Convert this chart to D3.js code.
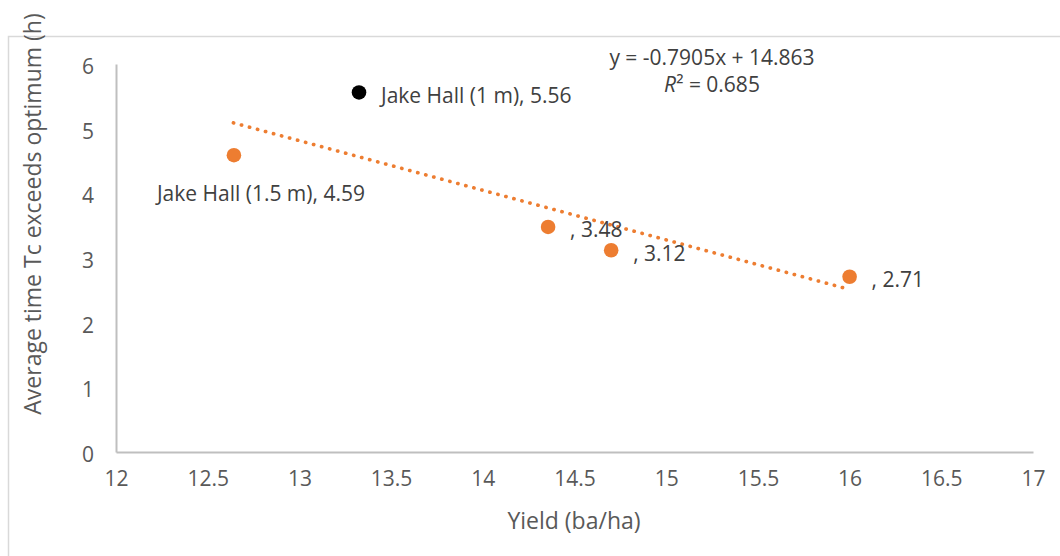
<!DOCTYPE html>
<html><head><meta charset="utf-8">
<script src="https://cdn.jsdelivr.net/npm/d3@7"></script>
<style>body{margin:0;background:#fff}svg{display:block}</style>
</head><body>
<svg id="c" width="1060" height="556"></svg>
<script>
const pointNames = ["Jake Hall (1.5 m)", "", "", "", "Jake Hall (1 m)"];
const pointX = [12.643, 14.356, 14.70, 16.0, 13.325];
const pointY = [4.59, 3.48, 3.12, 2.71, 5.56];
const pointColors = ["#ED7D31", "#ED7D31", "#ED7D31", "#ED7D31", "#000000"];
const xTicks = [12, 12.5, 13, 13.5, 14, 14.5, 15, 15.5, 16, 16.5, 17];
const yTicks = [0, 1, 2, 3, 4, 5, 6];
const trendX = [12.64, 15.965];
const trendY = [5.09, 2.54];
const equationLines = ["y = -0.7905x + 14.863", "R² = 0.685"];

const svg = d3.select("#c");
const font = "'Open Sans', sans-serif";
const fs = 21;
const x = d3.scaleLinear().domain([12, 17]).range([116, 1033]);
const y = d3.scaleLinear().domain([0, 6]).range([452, 64]);

// outer chart border
svg.append("rect").attr("x", 8.5).attr("y", 36.5).attr("width", 1100).attr("height", 600)
  .attr("fill", "none").attr("stroke", "#D9D9D9").attr("stroke-width", 1.5);

// axes
const xa = svg.append("g").attr("transform", "translate(0,452)")
  .call(d3.axisBottom(x).tickValues(xTicks).tickSize(0).tickPadding(23).tickFormat(d => d));
const ya = svg.append("g").attr("transform", "translate(116,0)")
  .call(d3.axisLeft(y).tickValues(yTicks).tickSize(0).tickPadding(22).tickFormat(d => d));
[xa, ya].forEach(a => {
  a.select(".domain").attr("stroke", "#BFBFBF").attr("stroke-width", 2);
  a.selectAll("text").attr("font-family", font).attr("font-size", fs).attr("fill", "#595959");
});
ya.selectAll("text").attr("dy", "0.45em");
xa.selectAll("text").attr("dy", "0.5em");

// trendline
svg.append("path")
  .attr("d", d3.line().x(d => x(d[0])).y(d => y(d[1]))(trendX.map((v, i) => [v, trendY[i]])))
  .attr("fill", "none").attr("stroke", "#ED7D31").attr("stroke-width", 3.6)
  .attr("stroke-linecap", "round").attr("stroke-dasharray", "0.3 8");

// points
svg.selectAll("circle.pt").data(pointX).join("circle").attr("class", "pt")
  .attr("cx", (d) => x(d)).attr("cy", (d, i) => y(pointY[i])).attr("r", 7.3)
  .attr("fill", (d, i) => pointColors[i]);

// labels
svg.selectAll("text.lbl").data(pointX).join("text").attr("class", "lbl")
  .attr("x", (d, i) => i === 0 ? x(d) + 27 : x(d) + 22)
  .attr("y", (d, i) => i === 0 ? y(pointY[i]) + 38 : y(pointY[i]) + 3)
  .attr("dy", "0.35em")
  .attr("text-anchor", (d, i) => i === 0 ? "middle" : "start")
  .attr("font-family", font).attr("font-size", fs).attr("fill", "#404040")
  .text((d, i) => pointNames[i] + ", " + pointY[i].toFixed(2));

// equation
const eq = svg.append("text").attr("x", 712).attr("y", 65)
  .attr("text-anchor", "middle").attr("font-family", font).attr("font-size", fs).attr("fill", "#404040");
eq.text(equationLines[0]);
const r2 = svg.append("text").attr("x", 712).attr("y", 92)
  .attr("text-anchor", "middle").attr("font-family", font).attr("font-size", fs).attr("fill", "#404040");
r2.append("tspan").attr("font-style", "italic").text("R");
r2.append("tspan").text(equationLines[1].slice(1));

// axis titles
svg.append("text").attr("x", 574).attr("y", 529).attr("text-anchor", "middle")
  .attr("font-family", font).attr("font-size", 23).attr("fill", "#595959").text("Yield (ba/ha)");
svg.append("text").attr("transform", "translate(41,214) rotate(-90)").attr("text-anchor", "middle")
  .attr("font-family", font).attr("font-size", 23).attr("fill", "#595959")
  .text("Average time Tc exceeds optimum (h)");
</script>
</body></html>
